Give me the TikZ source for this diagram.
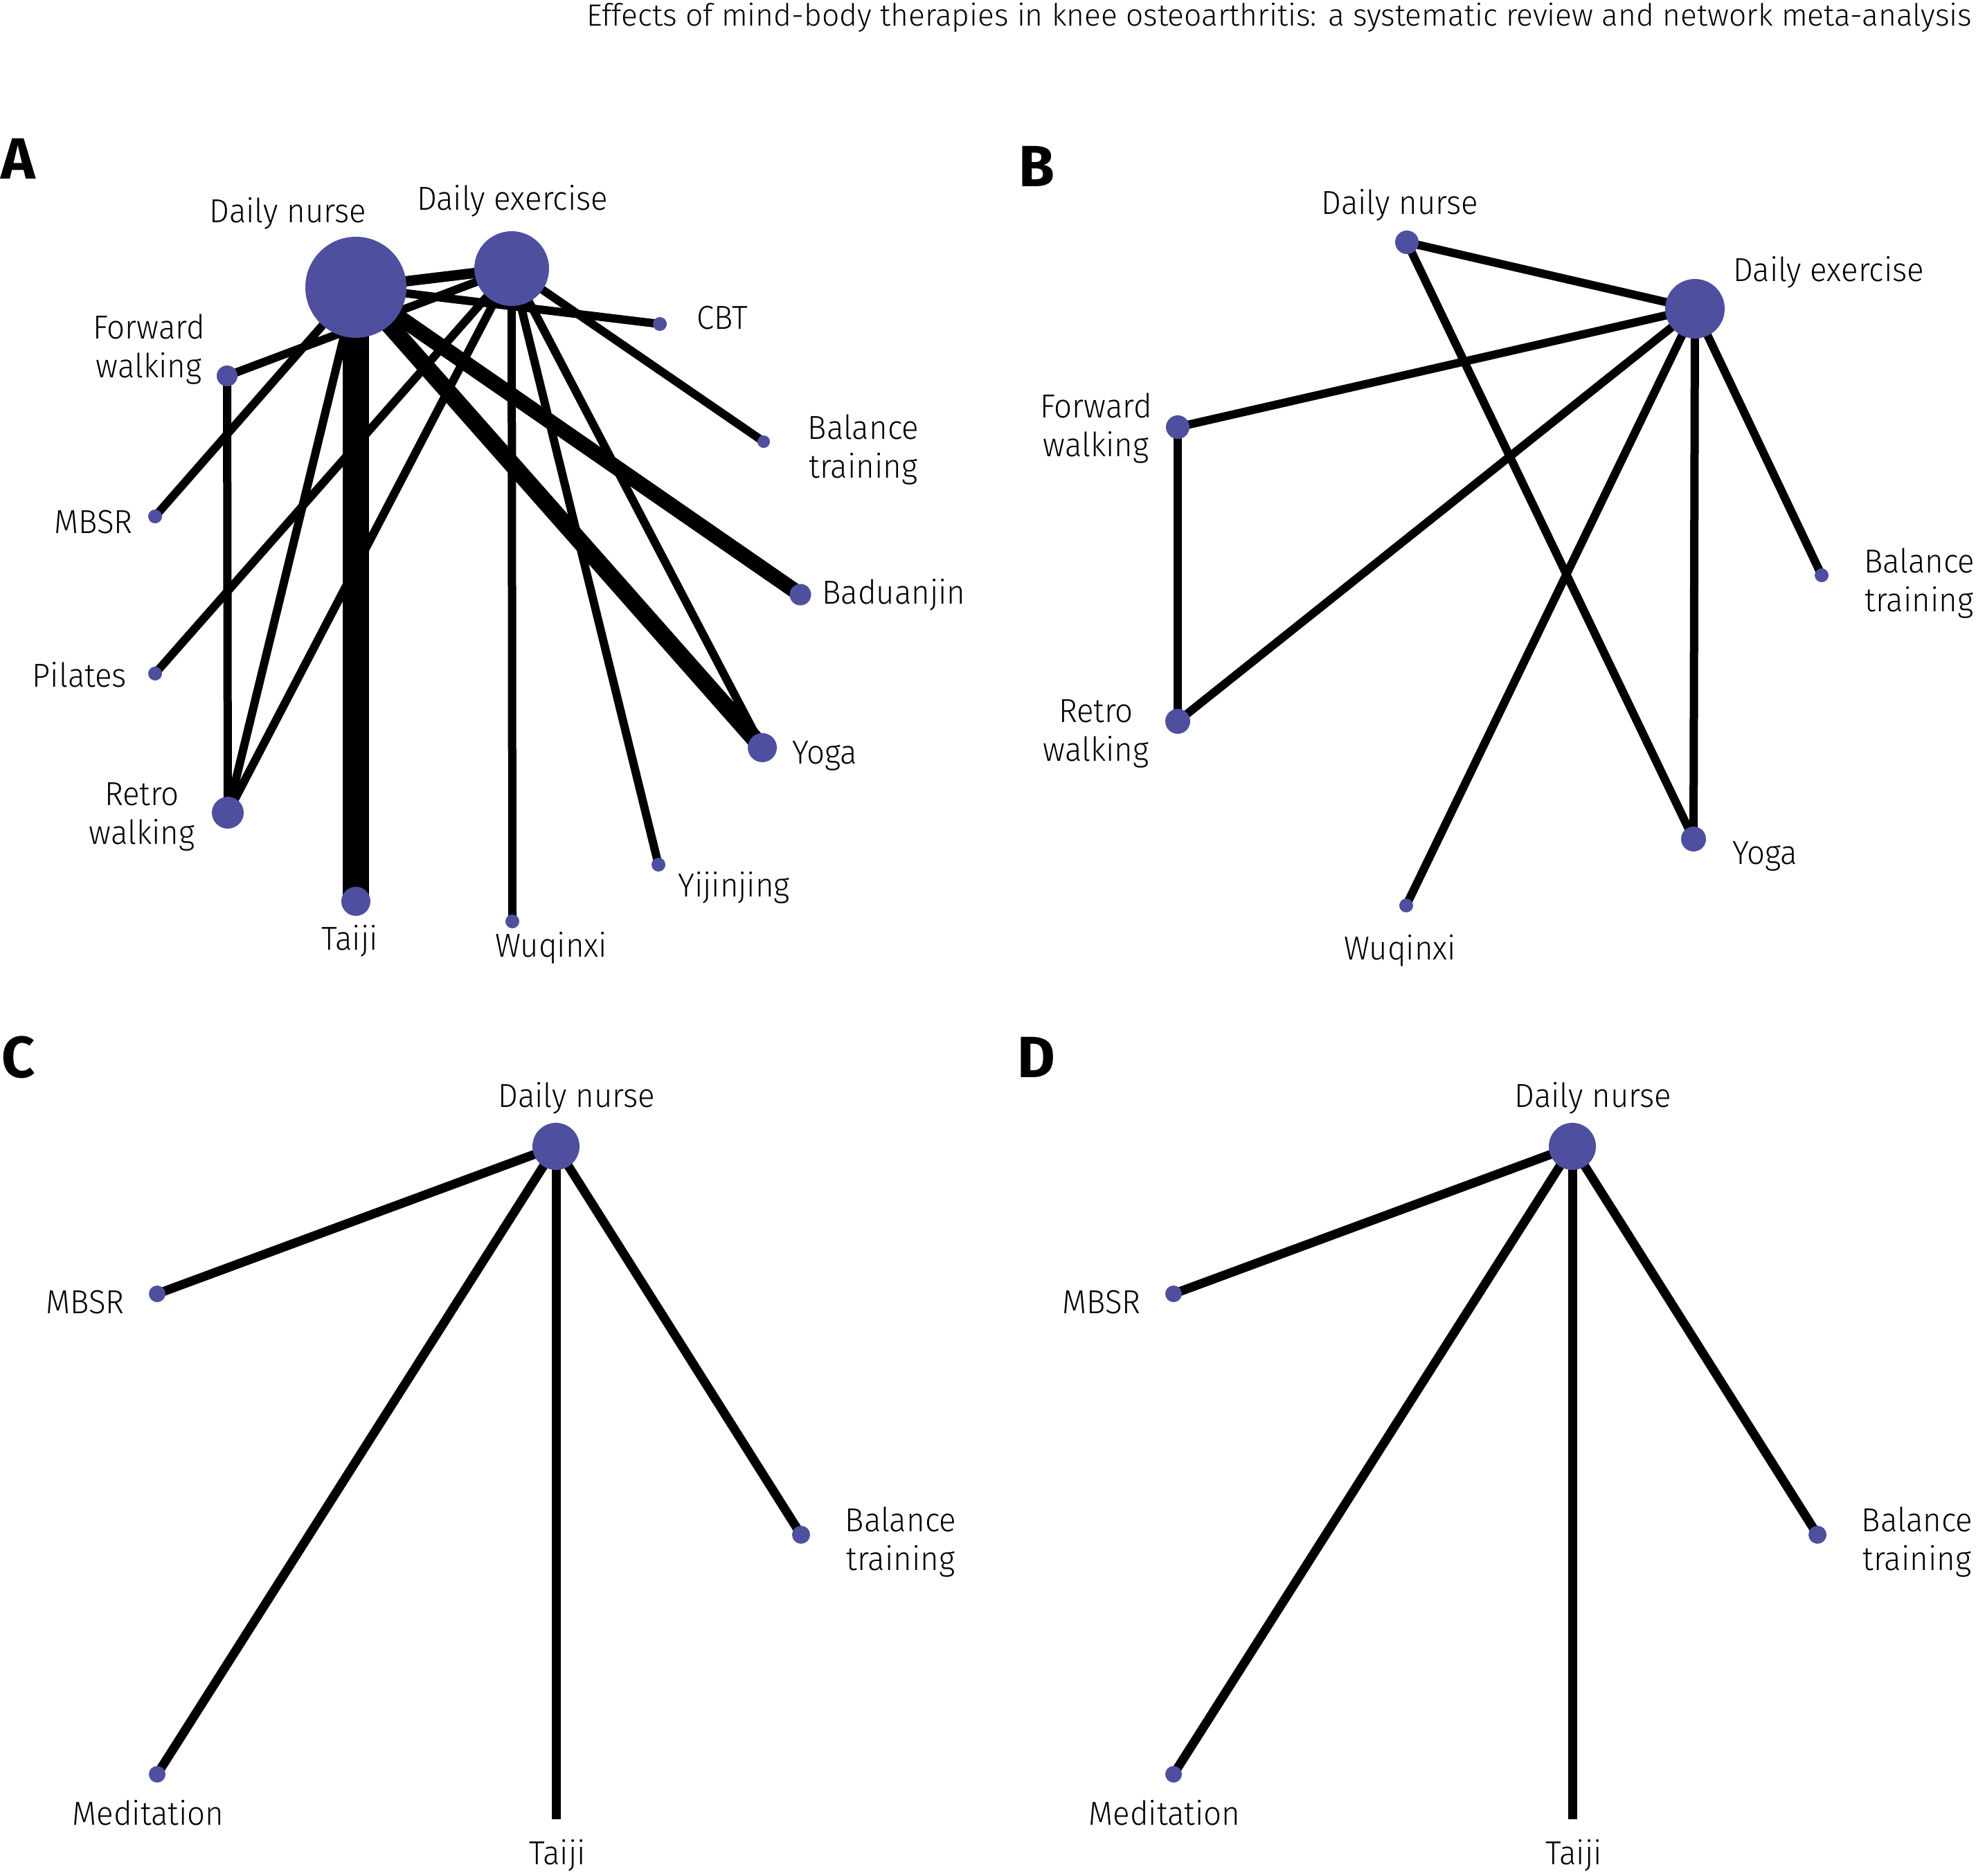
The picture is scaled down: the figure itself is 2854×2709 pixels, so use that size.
\documentclass[tikz,border=0pt]{standalone}
\usepackage{fontspec}
\setmainfont{Fira Sans}
\newfontfamily\lightfont{Fira Sans Light}
\newfontfamily\labfont[FakeStretch=0.95]{Fira Sans Light}
\pgfdeclarelayer{bg}
\pgfsetlayers{bg,main}
\definecolor{nodeblue}{RGB}{79,79,159}
\begin{document}
\begin{tikzpicture}[x=0.25pt,y=-0.25pt,
  nd/.style={circle,fill=nodeblue,inner sep=0pt,minimum size=#1*0.5pt},
  lab/.style={font=\labfont\fontsize{12}{14}\selectfont,align=center,inner sep=0pt},
  ttl/.style={font=\lightfont\fontsize{11.07}{13}\selectfont,inner sep=0pt},
  plab/.style={font=\fontsize{21}{24}\selectfont\bfseries,inner sep=0pt},
  edg/.style={line width=#1*0.25pt,draw=black},
]
\useasboundingbox (0,0) rectangle (2854,2709);

% title
\node[ttl,anchor=base east] (title) at (2849,37) {Effects of mind-body therapies in knee osteoarthritis: a systematic review and network meta-analysis};

% ---------------- Panel A ----------------
\node[plab] (Alet) at (26,229) {A};
\node[nd=73] (Adn) at (514,415) {};
\node[nd=54] (Ade) at (739,388) {};
\node[nd=10] (Acbt) at (953,468) {};
\node[nd=9] (Abal) at (1103,638) {};
\node[nd=15.5] (Abad) at (1156,859) {};
\node[nd=21] (Ayoga) at (1101,1080) {};
\node[nd=10] (Ayij) at (951,1249) {};
\node[nd=10] (Awuq) at (740,1331) {};
\node[nd=21] (Ataiji) at (514,1302) {};
\node[nd=23] (Aretro) at (329,1174) {};
\node[nd=10] (Apil) at (224,973) {};
\node[nd=10] (Ambsr) at (224,746) {};
\node[nd=15] (Afw) at (328,543) {};

\node[lab] (Ldn) at (416,308) {Daily nurse};
\node[lab] (Lde) at (740,290) {Daily exercise};
\node[lab] (Lfw) at (215,505) {Forward\\walking};
\node[lab] (Lcbt) at (1043,459) {CBT};
\node[lab] (Lbal) at (1247,650) {Balance\\training};
\node[lab] (Lmbsr) at (135,754) {MBSR};
\node[lab] (Lbad) at (1291,859) {Baduanjin};
\node[lab] (Lpil) at (115,975) {Pilates};
\node[lab] (Lyoga) at (1191,1092) {Yoga};
\node[lab] (Lretro) at (205,1180) {Retro\\walking};
\node[lab] (Lyij) at (1060,1282) {Yijinjing};
\node[lab] (Ltaiji) at (505,1359) {Taiji};
\node[lab] (Lwuq) at (796,1369) {Wuqinxi};

% ---------------- Panel B ----------------
\node[plab] (Blet) at (1497,240) {B};
\node[nd=17] (Bdn) at (2032,350) {};
\node[nd=43] (Bde) at (2448,446) {};
\node[nd=17] (Bfw) at (1701,617) {};
\node[nd=18] (Bretro) at (1701,1042) {};
\node[nd=10] (Bbal) at (2631,831) {};
\node[nd=18] (Byoga) at (2446,1212) {};
\node[nd=10] (Bwuq) at (2031,1308) {};

\node[lab] (BLdn) at (2022,296) {Daily nurse};
\node[lab] (BLde) at (2641,393) {Daily exercise};
\node[lab] (BLfw) at (1583,619) {Forward\\walking};
\node[lab] (BLretro) at (1583,1060) {Retro\\walking};
\node[lab] (BLbal) at (2772,843) {Balance\\training};
\node[lab] (BLyoga) at (2549,1237) {Yoga};
\node[lab] (BLwuq) at (2022,1373) {Wuqinxi};

% ---------------- Panel C ----------------
\node[plab] (Clet) at (27,1527) {C};
\node[nd=34] (Cdn) at (803,1656) {};
\node[nd=12] (Cmbsr) at (227,1869) {};
\node[nd=12] (Cmed) at (227,2563) {};
\node[nd=13] (Cbal) at (1157,2217) {};
\coordinate (Ctaiji) at (803,2628);

\node[lab] (CLdn) at (833,1586) {Daily nurse};
\node[lab] (CLmbsr) at (123,1881) {MBSR};
\node[lab] (CLbal) at (1301,2228) {Balance\\training};
\node[lab] (CLmed) at (214,2619) {Meditation};
\node[lab] (CLtaiji) at (805,2680) {Taiji};

% ---------------- Panel D ----------------
\node[plab] (Dlet) at (1497,1527) {D};
\node[nd=34] (Ddn) at (2271,1656) {};
\node[nd=12] (Dmbsr) at (1695,1869) {};
\node[nd=12] (Dmed) at (1695,2563) {};
\node[nd=13] (Dbal) at (2625,2217) {};
\coordinate (Dtaiji) at (2271,2628);

\node[lab] (DLdn) at (2301,1586) {Daily nurse};
\node[lab] (DLmbsr) at (1591,1881) {MBSR};
\node[lab] (DLbal) at (2769,2228) {Balance\\training};
\node[lab] (DLmed) at (1682,2619) {Meditation};
\node[lab] (DLtaiji) at (2273,2680) {Taiji};

% ---------------- edges ----------------
\begin{pgfonlayer}{bg}
\fill[white] (0,0) rectangle (2854,2709);
% A
\draw[edg=15] (Adn.center) -- (Ade.center);
\draw[edg=12] (Adn.center) -- (Acbt.center);
\draw[edg=12] (Afw.center) -- (Ade.center);
\draw[edg=12] (Ambsr.center) -- (Adn.center);
\draw[edg=12] (Apil.center) -- (Ade.center);
\draw[edg=12] (Aretro.center) -- (Afw.center);
\draw[edg=12] (Aretro.center) -- (Adn.center);
\draw[edg=12] (Aretro.center) -- (Ade.center);
\draw[edg=38] (Adn.center) -- (Ataiji.center);
\draw[edg=25] (Adn.center) -- (Ayoga.center);
\draw[edg=22] (Adn.center) -- (Abad.center);
\draw[edg=12] (Ade.center) -- (Awuq.center);
\draw[edg=12] (Ade.center) -- (Ayij.center);
\draw[edg=12] (Ade.center) -- (Ayoga.center);
\draw[edg=12] (Ade.center) -- (Abal.center);
% B
\draw[edg=12] (Bdn.center) -- (Bde.center);
\draw[edg=12] (Bdn.center) -- (Byoga.center);
\draw[edg=12] (Bde.center) -- (Bfw.center);
\draw[edg=12] (Bde.center) -- (Bretro.center);
\draw[edg=12] (Bde.center) -- (Bwuq.center);
\draw[edg=12] (Bde.center) -- (Byoga.center);
\draw[edg=12] (Bde.center) -- (Bbal.center);
\draw[edg=12] (Bfw.center) -- (Bretro.center);
% C
\draw[edg=13] (Cdn.center) -- (Cmbsr.center);
\draw[edg=13] (Cdn.center) -- (Cmed.center);
\draw[edg=13] (Cdn.center) -- (Ctaiji);
\draw[edg=13] (Cdn.center) -- (Cbal.center);
% D
\draw[edg=13] (Ddn.center) -- (Dmbsr.center);
\draw[edg=13] (Ddn.center) -- (Dmed.center);
\draw[edg=13] (Ddn.center) -- (Dtaiji);
\draw[edg=13] (Ddn.center) -- (Dbal.center);
\end{pgfonlayer}
\end{tikzpicture}
\end{document}
